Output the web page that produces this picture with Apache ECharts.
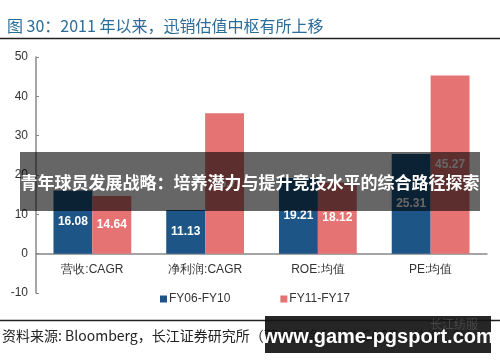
<!DOCTYPE html>
<html>
<head>
<meta charset="utf-8">
<script src="https://cdn.jsdelivr.net/npm/echarts@6/dist/echarts.min.js"></script>
<style>html,body{margin:0;padding:0;background:#fff;}#c{width:500px;height:362px;}</style>
</head>
<body>
<div id="c"></div>
<script>
var categories = ['营收:CAGR', '净利润:CAGR', 'ROE:均值', 'PE:均值'];
var seriesNames = ['FY06-FY10', 'FY11-FY17'];
var fy06_10 = [16.08, 11.13, 19.21, 25.31];
var fy11_17 = [14.64, 35.7, 18.12, 45.27];
var yTicks = [-10, 0, 10, 20, 30, 40, 50];
var titleText = '图 30：2011 年以来，迅销估值中枢有所上移';
var overlayText = '青年球员发展战略：培养潜力与提升竞技水平的综合路径探索';
var sourceText = '资料来源: Bloomberg，长江证券研究所（营收及净利润为CAGR，单位：%）';
var watermarkText = 'www.game-pgsport.com';

var chart = echarts.init(document.getElementById('c'));
var font = 'Liberation Sans, Arial, sans-serif';
var labelCfg = {show: true, position: 'inside', color: '#fff', fontWeight: 'bold', fontSize: 12, fontFamily: font};
var gridTop = 57, gridBottom = 69, plotH = 362 - gridTop - gridBottom;
var yMin = yTicks[0], yMax = yTicks[yTicks.length - 1];
var zeroOffset = -plotH * (0 - yMin) / (yMax - yMin);
chart.setOption({
  animation: false,
  backgroundColor: '#fff',
  textStyle: {fontFamily: font},
  title: {
    text: titleText, left: 2, top: 13,
    textStyle: {fontSize: 16, fontWeight: 'normal', color: '#2b6c98', fontFamily: 'Noto Sans CJK SC, sans-serif'}
  },
  legend: {
    data: seriesNames, left: 155, top: 288, itemWidth: 7, itemHeight: 7, itemGap: 50,
    icon: 'rect', textStyle: {fontSize: 12, color: '#333', padding: [0, 0, 0, -3]}
  },
  grid: {left: 36, right: 13, top: gridTop, bottom: gridBottom},
  xAxis: {
    type: 'category', data: categories, position: 'bottom', offset: zeroOffset,
    axisLine: {onZero: false, lineStyle: {color: '#888', width: 1.5}},
    axisTick: {show: false},
    axisLabel: {fontSize: 12, color: '#333', margin: 10}
  },
  yAxis: {
    type: 'value', min: yMin, max: yMax, interval: 10,
    splitLine: {show: false},
    axisLine: {show: true, lineStyle: {color: '#888', width: 1.5}},
    axisTick: {show: true, inside: true, length: 3, lineStyle: {color: '#888'}},
    axisLabel: {fontSize: 12, color: '#333', margin: 8}
  },
  series: [
    {name: seriesNames[0], type: 'bar', data: fy06_10, barWidth: '34.5%', barGap: '0%',
     itemStyle: {color: '#1d5686'}, label: labelCfg},
    {name: seriesNames[1], type: 'bar', data: fy11_17, barWidth: '34.5%',
     itemStyle: {color: '#e57373'}, label: labelCfg}
  ],
  graphic: [
    {type: 'line', z: 50, shape: {x1: 0, y1: 38.5, x2: 500, y2: 38.5}, style: {stroke: '#222', lineWidth: 1.5}},
    {type: 'line', z: 50, shape: {x1: 0, y1: 320.5, x2: 500, y2: 320.5}, style: {stroke: '#222', lineWidth: 1.5}},
    {type: 'text', z: 50, left: 2, top: 329, style: {text: sourceText, fontSize: 14, fill: '#222', fontFamily: 'Noto Sans CJK SC, sans-serif'}},
    {type: 'rect', z: 100, shape: {x: 20, y: 152, width: 460, height: 59}, style: {fill: 'rgba(0,0,0,0.6)'}},
    {type: 'text', z: 101, x: 250, y: 183, style: {text: overlayText, fontSize: 17, fontWeight: 'bold', fill: '#fff', align: 'center', verticalAlign: 'middle', fontFamily: 'Noto Sans CJK SC, sans-serif'}},
    {type: 'rect', z: 100, shape: {x: 265, y: 316, width: 226, height: 37}, style: {fill: 'rgba(20,20,20,0.92)'}},
    {type: 'text', z: 101, x: 430, y: 324, style: {text: '长江纺服', fontSize: 12, fill: 'rgba(255,255,255,0.15)', align: 'left', verticalAlign: 'middle', fontFamily: 'Noto Sans CJK SC, sans-serif'}},
    {type: 'text', z: 102, x: 378, y: 337, style: {text: watermarkText, fontSize: 20, fontWeight: 'bold', fill: '#fff', align: 'center', verticalAlign: 'middle', fontFamily: 'Liberation Sans, Arial, sans-serif'}}
  ]
});
</script>
</body>
</html>
